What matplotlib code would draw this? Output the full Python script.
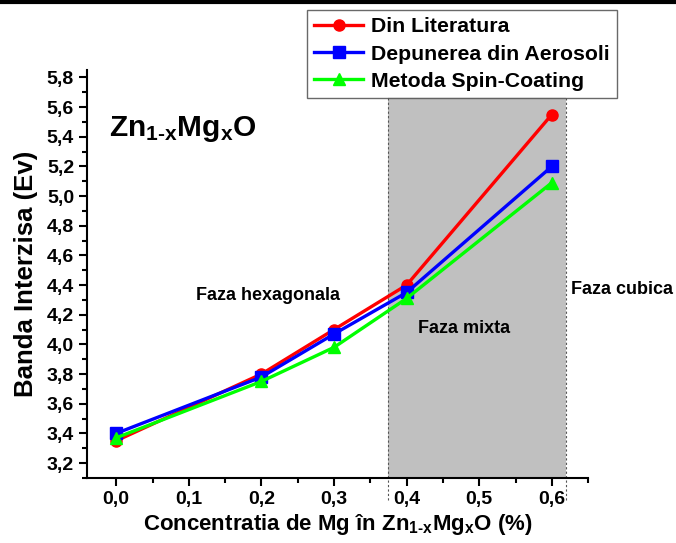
import matplotlib
matplotlib.use("Agg")
import matplotlib.pyplot as plt
from matplotlib.ticker import MultipleLocator, FuncFormatter
from matplotlib.lines import Line2D

plt.rcParams['font.family'] = ['Liberation Sans', 'DejaVu Sans']
plt.rcParams['mathtext.fontset'] = 'custom'
plt.rcParams['mathtext.rm'] = 'Liberation Sans:bold'
plt.rcParams['mathtext.it'] = 'Liberation Sans:bold'
plt.rcParams['mathtext.bf'] = 'Liberation Sans:bold'

x = [0.0, 0.2, 0.3, 0.4, 0.6]
literatura = [3.35, 3.80, 4.10, 4.40, 5.55]
aerosoli = [3.40, 3.78, 4.07, 4.35, 5.20]
spin = [3.37, 3.75, 3.98, 4.31, 5.09]
labels = ["Din Literatura", "Depunerea din Aerosoli", "Metoda Spin-Coating"]

fig = plt.figure(figsize=(6.76, 5.43), dpi=100)
ax = fig.add_axes([0.129, 0.12, 0.741, 0.751])

ax.set_xlim(-0.04, 0.65)
ax.set_ylim(3.1, 5.85)

# shaded mixed-phase region
ax.fill_between([0.375, 0.62], 3.1, 5.67, color='#c0c0c0', zorder=0, linewidth=0)
for xv in (0.375, 0.62):
    ax.plot([xv, xv], [2.95, 5.67], color='#555555', ls=(0, (2, 2)), lw=0.8,
            clip_on=False, zorder=1)

l1, = ax.plot(x, literatura, color='#ff0000', marker='o', ms=8, lw=2.4, label=labels[0], zorder=3)
l2, = ax.plot(x, aerosoli, color='#0000ff', marker='s', ms=8, lw=2.4, label=labels[1], zorder=4)
l3, = ax.plot(x, spin, color='#00ff00', marker='^', ms=9, lw=2.4, label=labels[2], zorder=5)

for s in ('top', 'right'):
    ax.spines[s].set_visible(False)
for s in ('left', 'bottom'):
    ax.spines[s].set_linewidth(1.5)

fmt = FuncFormatter(lambda v, p: f"{v:.1f}".replace('.', ','))
ax.xaxis.set_major_locator(MultipleLocator(0.1))
ax.xaxis.set_minor_locator(MultipleLocator(0.05))
ax.yaxis.set_major_locator(MultipleLocator(0.2))
ax.yaxis.set_minor_locator(MultipleLocator(0.1))
ax.xaxis.set_major_formatter(fmt)
ax.yaxis.set_major_formatter(fmt)
ax.set_yticks([3.2 + 0.2 * i for i in range(14)])
ax.tick_params(which='major', direction='out', length=6, width=1.5, labelsize=14)
ax.tick_params(which='minor', direction='out', length=3.5, width=1.5)
for t in ax.get_xticklabels() + ax.get_yticklabels():
    t.set_fontweight('bold')

ax.set_xlabel("Concentratia de Mg în Zn$_{\\text{1-x}}$Mg$_x$O (%)", fontsize=16, fontweight='bold', labelpad=3)
ax.set_ylabel("Banda Interzisa (Ev)", fontsize=18.5, fontweight='bold', labelpad=6)

ax.text(-0.01, 5.45, "Zn$_{\\text{1-x}}$Mg$_x$O", fontsize=21.5, fontweight='bold', va='center', ha='left')
ax.text(0.11, 4.33, "Faza hexagonala", fontsize=13, fontweight='bold', ha='left', va='center')
ax.text(0.415, 4.11, "Faza mixta", fontsize=13, fontweight='bold', ha='left', va='center')
ax.text(0.627, 4.37, "Faza cubica", fontsize=13, fontweight='bold', ha='left', va='center', clip_on=False)

leg = fig.legend(handles=[l1, l2, l3], loc='upper left', bbox_to_anchor=(307/676, 1 - 10/543),
                 frameon=True, fancybox=False, edgecolor='#444444',
                 prop={'weight': 'bold', 'size': 15.3}, handlelength=2.3, borderpad=0.35,
                 labelspacing=0.38, handletextpad=0.35, borderaxespad=0)
leg.get_frame().set_linewidth(1.0)

# thick top border line
fig.add_artist(Line2D([0, 1], [0.997, 0.997], transform=fig.transFigure, color='black', lw=3))

fig.savefig("out.png", dpi=100)
